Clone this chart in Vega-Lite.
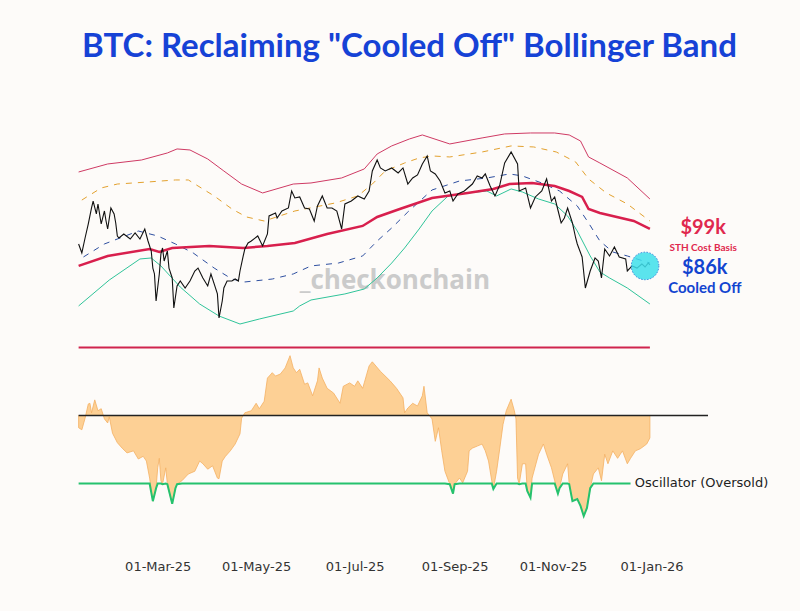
{
  "$schema": "https://vega.github.io/schema/vega-lite/v6.json",
  "background": "#fdfbf9",
  "padding": {"left": 73, "top": 30, "right": 32, "bottom": 38},
  "title": {"text": "BTC: Reclaiming \"Cooled Off\" Bollinger Band", "font": "Lato", "fontSize": 33, "fontWeight": "bold", "color": "#1642d6", "anchor": "middle", "frame": "group", "dx": 17, "offset": 67},
  "config": {"view": {"stroke": null}},
  "spacing": 10,
  "datasets": {
    "price": [
      {"date":"2025-01-11","v":93950},{"date":"2025-01-13","v":91370},{"date":"2025-01-15","v":95700},{"date":"2025-01-17","v":99940},{"date":"2025-01-19","v":105010},{"date":"2025-01-20","v":107290},{"date":"2025-01-22","v":103080},{"date":"2025-01-23","v":106310},{"date":"2025-01-25","v":99940},{"date":"2025-01-27","v":104030},{"date":"2025-01-28","v":100860},{"date":"2025-01-29","v":98400},{"date":"2025-01-31","v":105010},
      {"date":"2025-02-02","v":103080},{"date":"2025-02-03","v":100250},{"date":"2025-02-04","v":96300},{"date":"2025-02-05","v":95700},{"date":"2025-02-08","v":96900},{"date":"2025-02-12","v":95410},{"date":"2025-02-15","v":97190},{"date":"2025-02-18","v":95410},{"date":"2025-02-21","v":98400},{"date":"2025-02-23","v":94810},{"date":"2025-02-25","v":91930},{"date":"2025-02-26","v":87210},{"date":"2025-02-27","v":85630},{"date":"2025-02-28","v":78760},
      {"date":"2025-03-02","v":85630},{"date":"2025-03-03","v":91090},{"date":"2025-03-04","v":92790},{"date":"2025-03-05","v":89130},{"date":"2025-03-07","v":91930},{"date":"2025-03-08","v":87210},{"date":"2025-03-10","v":84580},{"date":"2025-03-11","v":77090},{"date":"2025-03-13","v":82520},{"date":"2025-03-15","v":83790},{"date":"2025-03-18","v":82000},{"date":"2025-03-21","v":83790},{"date":"2025-03-24","v":86420},{"date":"2025-03-26","v":87210},{"date":"2025-03-29","v":84580},
      {"date":"2025-04-01","v":82520},{"date":"2025-04-03","v":85630},{"date":"2025-04-05","v":83030},{"date":"2025-04-07","v":80500},{"date":"2025-04-08","v":74730},{"date":"2025-04-10","v":78760},{"date":"2025-04-11","v":82000},{"date":"2025-04-13","v":83790},{"date":"2025-04-16","v":83790},{"date":"2025-04-18","v":84320},{"date":"2025-04-20","v":83790},{"date":"2025-04-21","v":86420},{"date":"2025-04-23","v":90530},{"date":"2025-04-24","v":92510},{"date":"2025-04-26","v":94230},{"date":"2025-04-28","v":94810},
      {"date":"2025-05-02","v":96300},{"date":"2025-05-05","v":93370},{"date":"2025-05-08","v":96900},{"date":"2025-05-09","v":102450},{"date":"2025-05-13","v":103400},{"date":"2025-05-14","v":101810},{"date":"2025-05-17","v":104030},{"date":"2025-05-21","v":105010},{"date":"2025-05-23","v":110660},{"date":"2025-05-25","v":108300},{"date":"2025-05-28","v":108640},{"date":"2025-05-31","v":105010},
      {"date":"2025-06-03","v":104680},{"date":"2025-06-06","v":100860},{"date":"2025-06-08","v":105660},{"date":"2025-06-11","v":108980},{"date":"2025-06-14","v":105010},{"date":"2025-06-17","v":105010},{"date":"2025-06-20","v":104030},{"date":"2025-06-23","v":98400},{"date":"2025-06-25","v":106310},{"date":"2025-06-29","v":107290},
      {"date":"2025-07-03","v":108980},{"date":"2025-07-07","v":107960},{"date":"2025-07-10","v":110660},{"date":"2025-07-12","v":117720},{"date":"2025-07-15","v":121790},{"date":"2025-07-17","v":118830},{"date":"2025-07-20","v":117720},{"date":"2025-07-24","v":118830},{"date":"2025-07-28","v":117000},{"date":"2025-07-31","v":118830},
      {"date":"2025-08-03","v":113070},{"date":"2025-08-06","v":115210},{"date":"2025-08-09","v":116290},{"date":"2025-08-12","v":120300},{"date":"2025-08-15","v":123320},{"date":"2025-08-17","v":117720},{"date":"2025-08-20","v":116650},{"date":"2025-08-23","v":114140},{"date":"2025-08-26","v":109990},{"date":"2025-08-29","v":110660},{"date":"2025-08-31","v":107290},
      {"date":"2025-09-03","v":109640},{"date":"2025-09-07","v":110660},{"date":"2025-09-12","v":113070},{"date":"2025-09-15","v":115930},{"date":"2025-09-18","v":115210},{"date":"2025-09-20","v":116650},{"date":"2025-09-23","v":112400},{"date":"2025-09-26","v":108980},{"date":"2025-09-29","v":112750},
      {"date":"2025-10-02","v":120670},{"date":"2025-10-06","v":124840},{"date":"2025-10-10","v":120300},{"date":"2025-10-11","v":110660},{"date":"2025-10-15","v":111700},{"date":"2025-10-18","v":105010},{"date":"2025-10-21","v":108640},{"date":"2025-10-25","v":110660},{"date":"2025-10-28","v":114860},{"date":"2025-10-31","v":107290},
      {"date":"2025-11-02","v":108640},{"date":"2025-11-04","v":104350},{"date":"2025-11-06","v":100250},{"date":"2025-11-08","v":101810},{"date":"2025-11-10","v":105010},{"date":"2025-11-13","v":100250},{"date":"2025-11-15","v":95700},{"date":"2025-11-16","v":93950},{"date":"2025-11-19","v":90250},{"date":"2025-11-21","v":82000},{"date":"2025-11-24","v":86420},{"date":"2025-11-27","v":89970},{"date":"2025-11-29","v":89130},
      {"date":"2025-12-01","v":84580},{"date":"2025-12-03","v":92510},{"date":"2025-12-06","v":90530},{"date":"2025-12-09","v":93080},{"date":"2025-12-12","v":90250},{"date":"2025-12-16","v":89690},{"date":"2025-12-17","v":86420},{"date":"2025-12-20","v":87780},{"date":"2025-12-23","v":87210},{"date":"2025-12-26","v":88320},{"date":"2025-12-28","v":87490},{"date":"2025-12-30","v":88590},{"date":"2025-12-31","v":88030}
    ],
    "upper": [
      {"date":"2025-01-11","v":117360},{"date":"2025-01-29","v":120300},{"date":"2025-02-19","v":121790},{"date":"2025-03-07","v":124470},{"date":"2025-03-13","v":126020},{"date":"2025-03-21","v":125620},{"date":"2025-04-01","v":122170},{"date":"2025-04-11","v":117720},{"date":"2025-04-22","v":113070},{"date":"2025-05-05","v":109990},{"date":"2025-05-24","v":113070},{"date":"2025-06-04","v":113440},{"date":"2025-06-23","v":115210},{"date":"2025-07-07","v":118460},{"date":"2025-07-15","v":124080},{"date":"2025-07-24","v":127200},{"date":"2025-08-04","v":129970},{"date":"2025-08-12","v":131590},{"date":"2025-08-29","v":127980},{"date":"2025-09-18","v":130380},{"date":"2025-10-02","v":132000},{"date":"2025-10-18","v":132400},{"date":"2025-11-02","v":132400},{"date":"2025-11-11","v":131590},{"date":"2025-11-18","v":129160},{"date":"2025-11-23","v":122940},{"date":"2025-11-30","v":120670},{"date":"2025-12-17","v":115210},{"date":"2025-12-31","v":107960}
    ],
    "orange": [
      {"date":"2025-01-13","v":107600},{"date":"2025-01-16","v":108640},{"date":"2025-01-25","v":111700},{"date":"2025-02-04","v":113070},{"date":"2025-02-23","v":113790},{"date":"2025-03-12","v":114500},{"date":"2025-03-20","v":114500},{"date":"2025-03-28","v":111700},{"date":"2025-04-05","v":108980},{"date":"2025-04-16","v":104680},{"date":"2025-04-25","v":102130},{"date":"2025-05-06","v":100860},{"date":"2025-05-25","v":104030},{"date":"2025-06-19","v":106640},{"date":"2025-07-03","v":108980},{"date":"2025-07-12","v":113070},{"date":"2025-07-20","v":117720},{"date":"2025-08-01","v":120670},{"date":"2025-08-10","v":122550},{"date":"2025-08-18","v":123320},{"date":"2025-08-29","v":122940},{"date":"2025-09-18","v":124840},{"date":"2025-10-06","v":127200},{"date":"2025-10-20","v":126800},{"date":"2025-11-03","v":124840},{"date":"2025-11-15","v":121040},{"date":"2025-11-23","v":114860},{"date":"2025-12-04","v":109990},{"date":"2025-12-17","v":106310},{"date":"2025-12-31","v":100860}
    ],
    "mid": [
      {"date":"2025-01-14","v":90250},{"date":"2025-01-18","v":91370},{"date":"2025-01-27","v":93950},{"date":"2025-02-17","v":97790},{"date":"2025-03-01","v":96300},{"date":"2025-03-12","v":93950},{"date":"2025-03-23","v":91370},{"date":"2025-04-05","v":87210},{"date":"2025-04-16","v":84300},{"date":"2025-04-24","v":83540},{"date":"2025-05-11","v":84300},{"date":"2025-05-24","v":85630},{"date":"2025-06-04","v":87780},{"date":"2025-06-21","v":88570},{"date":"2025-07-06","v":90530},{"date":"2025-07-15","v":94810},{"date":"2025-07-24","v":98710},{"date":"2025-08-03","v":103710},{"date":"2025-08-18","v":111010},{"date":"2025-09-04","v":114140},{"date":"2025-09-21","v":115210},{"date":"2025-10-05","v":116650},{"date":"2025-10-13","v":115930},{"date":"2025-10-25","v":113440},{"date":"2025-11-05","v":110660},{"date":"2025-11-16","v":105660},{"date":"2025-11-23","v":100250},{"date":"2025-11-30","v":94810},{"date":"2025-12-08","v":91650},{"date":"2025-12-17","v":90530},{"date":"2025-12-31","v":88570}
    ],
    "sth": [
      {"date":"2025-01-11","v":87780},{"date":"2025-01-29","v":90530},{"date":"2025-02-24","v":92510},{"date":"2025-03-02","v":91650},{"date":"2025-03-10","v":92790},{"date":"2025-04-02","v":93370},{"date":"2025-04-23","v":92790},{"date":"2025-05-08","v":93370},{"date":"2025-05-25","v":94230},{"date":"2025-06-14","v":96900},{"date":"2025-07-06","v":99330},{"date":"2025-07-15","v":102130},{"date":"2025-07-29","v":104680},{"date":"2025-08-18","v":108300},{"date":"2025-09-09","v":109990},{"date":"2025-09-25","v":111360},{"date":"2025-10-05","v":113070},{"date":"2025-10-19","v":113440},{"date":"2025-11-02","v":112400},{"date":"2025-11-11","v":110660},{"date":"2025-11-19","v":108640},{"date":"2025-11-23","v":104680},{"date":"2025-11-30","v":103400},{"date":"2025-12-21","v":100860},{"date":"2025-12-31","v":98400}
    ],
    "lower": [
      {"date":"2025-01-11","v":77570},{"date":"2025-01-30","v":84040},{"date":"2025-02-18","v":89690},{"date":"2025-02-25","v":89970},{"date":"2025-03-03","v":87780},{"date":"2025-03-15","v":82230},{"date":"2025-03-27","v":78040},{"date":"2025-04-08","v":75200},{"date":"2025-04-21","v":73360},{"date":"2025-05-03","v":74500},{"date":"2025-05-24","v":76370},{"date":"2025-05-28","v":77570},{"date":"2025-06-04","v":79010},{"date":"2025-06-25","v":80500},{"date":"2025-07-07","v":81740},{"date":"2025-07-15","v":84580},{"date":"2025-07-24","v":88570},{"date":"2025-08-01","v":92790},{"date":"2025-08-10","v":98400},{"date":"2025-08-18","v":104030},{"date":"2025-08-28","v":108980},{"date":"2025-09-09","v":109990},{"date":"2025-09-21","v":110660},{"date":"2025-09-27","v":108980},{"date":"2025-10-06","v":111360},{"date":"2025-10-13","v":110320},{"date":"2025-10-23","v":107960},{"date":"2025-11-02","v":106310},{"date":"2025-11-10","v":102450},{"date":"2025-11-16","v":97790},{"date":"2025-11-24","v":90530},{"date":"2025-11-30","v":86160},{"date":"2025-12-06","v":84580},{"date":"2025-12-17","v":82000},{"date":"2025-12-31","v":78040}
    ],
    "osc": [
      {"date":"2025-01-11","osc":-0.18,"os":-1},{"date":"2025-01-13","osc":-0.21,"os":-1},{"date":"2025-01-15","osc":-0.04,"os":-1},{"date":"2025-01-17","osc":0.17,"os":-1},{"date":"2025-01-18","osc":0.18,"os":-1},{"date":"2025-01-19","osc":0.04,"os":-1},{"date":"2025-01-21","osc":0.23,"os":-1},{"date":"2025-01-23","osc":0.07,"os":-1},{"date":"2025-01-25","osc":0.10,"os":-1},{"date":"2025-01-27","osc":-0.05,"os":-1},{"date":"2025-01-29","osc":-0.11,"os":-1},{"date":"2025-01-30","osc":-0.02,"os":-1},
      {"date":"2025-02-01","osc":-0.26,"os":-1},{"date":"2025-02-04","osc":-0.40,"os":-1},{"date":"2025-02-07","osc":-0.48,"os":-1},{"date":"2025-02-10","osc":-0.55,"os":-1},{"date":"2025-02-14","osc":-0.52,"os":-1},{"date":"2025-02-17","osc":-0.64,"os":-1},{"date":"2025-02-20","osc":-0.60,"os":-1},{"date":"2025-02-22","osc":-0.67,"os":-1},{"date":"2025-02-24","osc":-0.92,"os":-1},{"date":"2025-02-26","osc":-1.26,"os":-1.26},{"date":"2025-02-28","osc":-1.07,"os":-1.07},
      {"date":"2025-03-01","osc":-0.77,"os":-1},{"date":"2025-03-02","osc":-0.63,"os":-1},{"date":"2025-03-03","osc":-0.96,"os":-1},{"date":"2025-03-04","osc":-1.01,"os":-1.01},{"date":"2025-03-06","osc":-0.77,"os":-1},{"date":"2025-03-07","osc":-1.01,"os":-1.01},{"date":"2025-03-10","osc":-1.30,"os":-1.30},{"date":"2025-03-12","osc":-1.07,"os":-1.07},{"date":"2025-03-13","osc":-1.01,"os":-1.01},{"date":"2025-03-16","osc":-0.96,"os":-1},{"date":"2025-03-20","osc":-0.86,"os":-1},{"date":"2025-03-24","osc":-0.82,"os":-1},{"date":"2025-03-27","osc":-0.67,"os":-1},{"date":"2025-03-29","osc":-0.71,"os":-1},
      {"date":"2025-04-01","osc":-0.79,"os":-1},{"date":"2025-04-04","osc":-0.74,"os":-1},{"date":"2025-04-07","osc":-0.92,"os":-1},{"date":"2025-04-08","osc":-0.93,"os":-1},{"date":"2025-04-10","osc":-0.67,"os":-1},{"date":"2025-04-12","osc":-0.60,"os":-1},{"date":"2025-04-15","osc":-0.52,"os":-1},{"date":"2025-04-18","osc":-0.42,"os":-1},{"date":"2025-04-21","osc":-0.27,"os":-1},{"date":"2025-04-22","osc":-0.04,"os":-1},{"date":"2025-04-24","osc":0.04,"os":-1},{"date":"2025-04-28","osc":0.07,"os":-1},
      {"date":"2025-05-01","osc":0.18,"os":-1},{"date":"2025-05-03","osc":0.10,"os":-1},{"date":"2025-05-06","osc":0.21,"os":-1},{"date":"2025-05-08","osc":0.55,"os":-1},{"date":"2025-05-11","osc":0.63,"os":-1},{"date":"2025-05-13","osc":0.58,"os":-1},{"date":"2025-05-16","osc":0.61,"os":-1},{"date":"2025-05-19","osc":0.70,"os":-1},{"date":"2025-05-22","osc":0.88,"os":-1},{"date":"2025-05-24","osc":0.70,"os":-1},{"date":"2025-05-26","osc":0.63,"os":-1},{"date":"2025-05-28","osc":0.68,"os":-1},{"date":"2025-05-31","osc":0.46,"os":-1},
      {"date":"2025-06-02","osc":0.48,"os":-1},{"date":"2025-06-05","osc":0.29,"os":-1},{"date":"2025-06-08","osc":0.51,"os":-1},{"date":"2025-06-09","osc":0.70,"os":-1},{"date":"2025-06-11","osc":0.55,"os":-1},{"date":"2025-06-14","osc":0.40,"os":-1},{"date":"2025-06-18","osc":0.33,"os":-1},{"date":"2025-06-22","osc":0.18,"os":-1},{"date":"2025-06-24","osc":0.43,"os":-1},{"date":"2025-06-28","osc":0.48,"os":-1},
      {"date":"2025-07-01","osc":0.43,"os":-1},{"date":"2025-07-03","osc":0.51,"os":-1},{"date":"2025-07-06","osc":0.40,"os":-1},{"date":"2025-07-07","osc":0.48,"os":-1},{"date":"2025-07-10","osc":0.73,"os":-1},{"date":"2025-07-12","osc":0.79,"os":-1},{"date":"2025-07-17","osc":0.65,"os":-1},{"date":"2025-07-23","osc":0.51,"os":-1},{"date":"2025-07-27","osc":0.40,"os":-1},{"date":"2025-07-31","osc":0.26,"os":-1},
      {"date":"2025-08-01","osc":0.04,"os":-1},{"date":"2025-08-03","osc":0.11,"os":-1},{"date":"2025-08-06","osc":0.18,"os":-1},{"date":"2025-08-09","osc":0.14,"os":-1},{"date":"2025-08-12","osc":0.29,"os":-1},{"date":"2025-08-13","osc":0.43,"os":-1},{"date":"2025-08-15","osc":0.04,"os":-1},{"date":"2025-08-18","osc":-0.05,"os":-1},{"date":"2025-08-20","osc":-0.38,"os":-1},{"date":"2025-08-22","osc":-0.18,"os":-1},{"date":"2025-08-24","osc":-0.52,"os":-1},{"date":"2025-08-26","osc":-0.82,"os":-1},{"date":"2025-08-29","osc":-1.01,"os":-1.01},{"date":"2025-08-31","osc":-1.15,"os":-1.15},
      {"date":"2025-09-01","osc":-1.01,"os":-1.01},{"date":"2025-09-04","osc":-0.92,"os":-1},{"date":"2025-09-06","osc":-0.99,"os":-1},{"date":"2025-09-09","osc":-0.82,"os":-1},{"date":"2025-09-10","osc":-0.52,"os":-1},{"date":"2025-09-12","osc":-0.48,"os":-1},{"date":"2025-09-15","osc":-0.45,"os":-1},{"date":"2025-09-18","osc":-0.42,"os":-1},{"date":"2025-09-20","osc":-0.52,"os":-1},{"date":"2025-09-22","osc":-0.67,"os":-1},{"date":"2025-09-24","osc":-0.96,"os":-1},{"date":"2025-09-25","osc":-1.08,"os":-1.08},{"date":"2025-09-27","osc":-0.82,"os":-1},{"date":"2025-09-29","osc":-0.48,"os":-1},
      {"date":"2025-10-01","osc":-0.13,"os":-1},{"date":"2025-10-03","osc":0.07,"os":-1},{"date":"2025-10-06","osc":0.24,"os":-1},{"date":"2025-10-08","osc":0.07,"os":-1},{"date":"2025-10-09","osc":-0.05,"os":-1},{"date":"2025-10-10","osc":-0.92,"os":-1},{"date":"2025-10-11","osc":-1.01,"os":-1.01},{"date":"2025-10-13","osc":-0.71,"os":-1},{"date":"2025-10-15","osc":-0.71,"os":-1},{"date":"2025-10-16","osc":-1.11,"os":-1.11},{"date":"2025-10-18","osc":-1.21,"os":-1.21},{"date":"2025-10-19","osc":-0.92,"os":-1},{"date":"2025-10-23","osc":-0.57,"os":-1},{"date":"2025-10-26","osc":-0.42,"os":-1},{"date":"2025-10-28","osc":-0.57,"os":-1},{"date":"2025-10-31","osc":-0.77,"os":-1},
      {"date":"2025-11-02","osc":-0.96,"os":-1},{"date":"2025-11-04","osc":-1.15,"os":-1.15},{"date":"2025-11-05","osc":-1.07,"os":-1.07},{"date":"2025-11-07","osc":-0.86,"os":-1},{"date":"2025-11-10","osc":-0.71,"os":-1},{"date":"2025-11-11","osc":-1.01,"os":-1.01},{"date":"2025-11-13","osc":-1.26,"os":-1.26},{"date":"2025-11-16","osc":-1.23,"os":-1.23},{"date":"2025-11-18","osc":-1.33,"os":-1.33},{"date":"2025-11-20","osc":-1.48,"os":-1.48},{"date":"2025-11-22","osc":-1.36,"os":-1.36},{"date":"2025-11-24","osc":-1.07,"os":-1.07},{"date":"2025-11-26","osc":-0.86,"os":-1},{"date":"2025-11-29","osc":-0.77,"os":-1},
      {"date":"2025-12-01","osc":-0.96,"os":-1},{"date":"2025-12-03","osc":-0.57,"os":-1},{"date":"2025-12-05","osc":-0.71,"os":-1},{"date":"2025-12-08","osc":-0.52,"os":-1},{"date":"2025-12-11","osc":-0.63,"os":-1},{"date":"2025-12-14","osc":-0.52,"os":-1},{"date":"2025-12-17","osc":-0.71,"os":-1},{"date":"2025-12-19","osc":-0.63,"os":-1},{"date":"2025-12-22","osc":-0.52},{"date":"2025-12-25","osc":-0.49},{"date":"2025-12-29","osc":-0.42},{"date":"2025-12-31","osc":-0.33}
    ]
  },
  "vconcat": [
    {
      "width": 631,
      "height": 200,
      "encoding": {
        "x": {"field": "date", "type": "temporal", "scale": {"type": "utc", "domain": [{"year": 2025, "month": 1, "date": 10, "utc": true}, {"year": 2026, "month": 2, "date": 5, "utc": true}]}, "axis": null},
        "y": {"field": "v", "type": "quantitative", "scale": {"type": "log", "domain": [71790, 133210]}, "axis": null}
      },
      "layer": [
        {"data": {"values": [{"date": "2025-07-26", "v": 83790, "label": "_checkonchain"}]}, "mark": {"type": "text", "font": "Open Sans", "fontSize": 26, "fontWeight": "bold", "color": "#cbcbcb", "align": "center", "baseline": "middle"}, "encoding": {"text": {"field": "label"}}},
        {"data": {"name": "upper"}, "mark": {"type": "line", "color": "#cf3a64", "strokeWidth": 1}},
        {"data": {"name": "orange"}, "mark": {"type": "line", "color": "#e3a12e", "strokeWidth": 1, "strokeDash": [6, 6]}},
        {"data": {"name": "mid"}, "mark": {"type": "line", "color": "#2e4fa0", "strokeWidth": 1, "strokeDash": [6, 6]}},
        {"data": {"name": "lower"}, "mark": {"type": "line", "color": "#30c49a", "strokeWidth": 1}},
        {"data": {"name": "sth"}, "mark": {"type": "line", "color": "#d81f4d", "strokeWidth": 2.5}},
        {"data": {"name": "price"}, "mark": {"type": "line", "color": "#111111", "strokeWidth": 1.1}},
        {"data": {"values": [{"date": "2025-12-28", "v": 87780}]}, "mark": {"type": "point", "filled": true, "size": 760, "color": "#3fe0ec", "opacity": 0.85, "stroke": "#1c6fd6", "strokeWidth": 1, "strokeDash": [1.5, 1.5]}},
        {"data": {"values": [{"date": "2026-02-02", "v": 98700, "label": "$99k"}]}, "mark": {"type": "text", "font": "Lato", "fontSize": 20, "fontWeight": "bold", "color": "#e0284e", "align": "center", "baseline": "middle"}, "encoding": {"text": {"field": "label"}}},
        {"data": {"values": [{"date": "2026-02-02", "v": 92790, "label": "STH Cost Basis"}]}, "mark": {"type": "text", "font": "Lato", "fontSize": 10, "fontWeight": "bold", "color": "#e0284e", "align": "center", "baseline": "middle"}, "encoding": {"text": {"field": "label"}}},
        {"data": {"values": [{"date": "2026-02-03", "v": 87210, "label": "$86k"}]}, "mark": {"type": "text", "font": "Lato", "fontSize": 20, "fontWeight": "bold", "color": "#1244d0", "align": "center", "baseline": "middle"}, "encoding": {"text": {"field": "label"}}},
        {"data": {"values": [{"date": "2026-02-03", "v": 82000, "label": "Cooled Off"}]}, "mark": {"type": "text", "font": "Lato", "fontSize": 15, "fontWeight": "bold", "color": "#1244d0", "align": "center", "baseline": "middle"}, "encoding": {"text": {"field": "label"}}}
      ]
    },
    {
      "width": 631,
      "height": 200,
      "encoding": {
        "x": {"field": "date", "type": "temporal", "scale": {"type": "utc", "domain": [{"year": 2025, "month": 1, "date": 10, "utc": true}, {"year": 2026, "month": 2, "date": 5, "utc": true}]},
          "axis": {"values": [{"year": 2025, "month": 3, "date": 1, "utc": true}, {"year": 2025, "month": 5, "date": 1, "utc": true}, {"year": 2025, "month": 7, "date": 1, "utc": true}, {"year": 2025, "month": 9, "date": 1, "utc": true}, {"year": 2025, "month": 11, "date": 1, "utc": true}, {"year": 2026, "month": 1, "date": 1, "utc": true}],
            "format": "%d-%b-%y", "title": null, "domain": false, "ticks": false, "grid": false, "labelFont": "DejaVu Sans", "labelFontSize": 13, "labelColor": "#333333", "labelPadding": 19}},
        "y": {"field": "osc", "type": "quantitative", "scale": {"domain": [-1.846, 1.096]}, "axis": null}
      },
      "layer": [
        {"data": {"name": "osc"}, "mark": {"type": "area", "color": "#fdd095", "stroke": "#f4b062", "strokeWidth": 0.8}, "encoding": {"y2": {"datum": 0}}},
        {"data": {"values": [{"date": "2025-01-11", "date2": "2025-12-31", "osc": 1}]}, "mark": {"type": "rule", "color": "#d0244e", "strokeWidth": 2}, "encoding": {"x2": {"field": "date2"}}},
        {"data": {"values": [{"date": "2025-01-11", "date2": "2026-02-05", "osc": 0}]}, "mark": {"type": "rule", "color": "#222222", "strokeWidth": 1.5}, "encoding": {"x2": {"field": "date2"}}},
        {"data": {"name": "osc"}, "transform": [{"filter": "isValid(datum.os)"}], "mark": {"type": "line", "color": "#25c26e", "strokeWidth": 2}, "encoding": {"y": {"field": "os", "type": "quantitative", "scale": {"domain": [-1.846, 1.096]}, "axis": null}}},
        {"data": {"values": [{"date": "2025-12-21", "osc": -1, "label": "Oscillator (Oversold)"}]}, "mark": {"type": "text", "font": "DejaVu Sans", "fontSize": 13, "color": "#222222", "align": "left", "baseline": "middle", "dx": 1}, "encoding": {"text": {"field": "label"}}}
      ]
    }
  ]
}
